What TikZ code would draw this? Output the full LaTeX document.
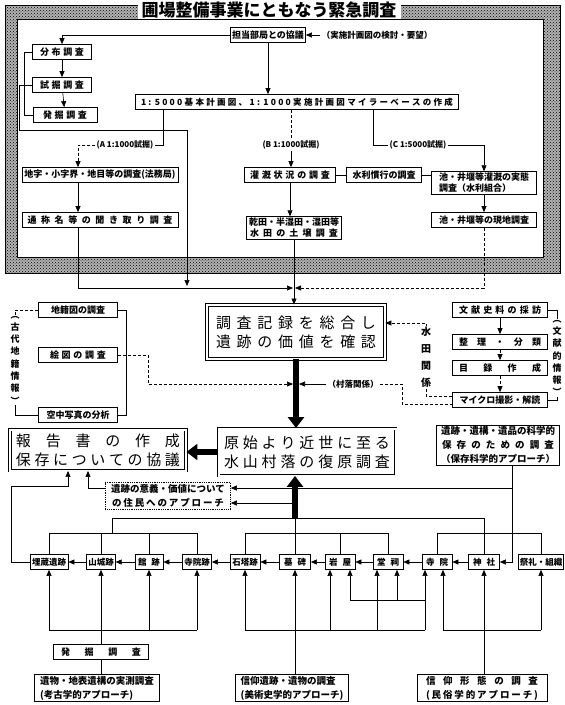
\documentclass[tikz,border=0pt]{standalone}
\usepackage{fontspec}
\setmainfont{Noto Sans CJK JP}
\usetikzlibrary{arrows.meta,patterns}
\newcommand\sprd[2]{\makebox[#1][s]{#2}}
\tikzset{bx/.style={draw,line width=0.7pt,fill=white,inner sep=1.5pt,minimum height=15pt,font=\bfseries\fontsize{9}{11}\selectfont},
dbx/.style={draw,double,double distance=2pt,line width=0.9pt,fill=white,align=center,font=\fontsize{15}{19}\selectfont},
lbl/.style={fill=white,inner sep=1pt,font=\bfseries\fontsize{8}{10}\selectfont},
vt/.style={fill=white,inner sep=0.5pt,align=center,font=\bfseries\fontsize{9}{12.3}\selectfont},
arr/.style={-{Triangle[length=6pt,width=5pt]}},
fat/.style={line width=6pt,-{Triangle[length=11pt,width=16pt]}}}

\begin{document}
\begin{tikzpicture}[x=1pt,y=-1pt,line width=0.6pt]
\useasboundingbox (0,0) rectangle (565,705);
\fill[gray!60,even odd rule] (5,5) rectangle (560,273) (17,19) rectangle (543,257);
\fill[pattern=crosshatch dots,even odd rule] (5,5) rectangle (560,273) (17,19) rectangle (543,257);
\draw (5,5) rectangle (560,273);
\draw (17,19) rectangle (543,257);
\node[fill=white,inner xsep=4pt,inner ysep=1pt,font=\bfseries\fontsize{17}{19}\selectfont] (title) at (269,10) {圃場整備事業にともなう緊急調査};

\node[bx,minimum width=75pt] (kyogi) at (268,35) {担当部局との協議};
\node[lbl,font=\bfseries\fontsize{8.5}{10}\selectfont] (yobo) at (377,35) {（実施計画図の検討・要望）};
\node[bx,minimum width=59pt] (bunpu) at (62,52) {\sprd{44pt}{分 布 調 査}};
\node[bx,minimum width=59pt] (shikutsu) at (62,85) {\sprd{44pt}{試 掘 調 査}};
\node[bx,minimum width=64pt] (hakkutsu) at (65,115) {\sprd{44pt}{発 掘 調 査}};
\node[bx,minimum width=323pt,font=\bfseries\fontsize{8.5}{10}\selectfont] (base) at (297,102) {\sprd{312pt}{1 : 5 0 0 0 基 本 計 画 図 、 1 : 1 0 0 0 実 施 計 画 図 マ イ ラ ー ベ ー ス の 作 成}};
\node[lbl] (lblA) at (125,145) {(A 1:1000試掘)};
\node[lbl] (lblB) at (291,145) {(B 1:1000試掘)};
\node[lbl] (lblC) at (418,145) {(C 1:5000試掘)};
\node[bx,minimum width=156pt] (chiaza) at (100,175) {地字・小字界・地目等の調査(法務局)};
\node[bx,minimum width=91pt] (kangai) at (290,175) {\sprd{80pt}{灌 漑 状 況 の 調 査}};
\node[bx,minimum width=75pt] (suiri) at (384,175) {水利慣行の調査};
\node[bx,minimum width=105pt,align=left] (ike1) at (484,183) {池・井堰等灌漑の実態\\調査（水利組合）};
\node[bx,minimum width=156pt] (tsusho) at (100,220) {\sprd{145pt}{通 称 名 等 の 聞 き 取 り 調 査}};
\node[bx,minimum width=95pt,align=center] (kanden) at (294,228) {乾田・半湿田・湿田等\\\sprd{88pt}{水 田 の 土 壌 調 査}};
\node[bx,minimum width=105pt] (ike2) at (484,220) {池・井堰等の現地調査};

\coordinate (x78) at (78,0);
\coordinate (kA) at (163,0);
\coordinate (kC) at (373,0);
\coordinate (c130) at (187,130);
\coordinate (c288) at (187,286);
\coordinate (bt) at (294,288);
\draw[arr] (yobo.west) -- (kyogi.east);
\draw[arr] (kyogi.west) -| (bunpu.north);
\draw[arr] (bunpu) -- (shikutsu);
\draw[arr] (shikutsu) -- (hakkutsu);
\draw (bunpu.west) -- ++(-8,0) |- (hakkutsu.west);
\draw[arr] (shikutsu.west) -- ++(-13,0) |- (c130) -- (c288);
\draw[arr] (kyogi.south) -- (kyogi.south |- base.north);
\draw (kA |- base.south) |- (lblA.east);
\draw[arr,densely dashed] (lblA.west) -| (x78 |- chiaza.north);
\draw[densely dashed] (lblB.north |- base.south) -- (lblB.north);
\draw[arr] (lblB.south) -- (lblB.south |- kangai.north);
\draw (kC |- base.south) |- (lblC.west);
\draw[arr] (lblC.east) -| (ike1.north);
\draw (kangai) -- (suiri);
\draw (suiri.east) -- (suiri.east -| ike1.west);
\draw[arr] (x78 |- chiaza.south) -- (x78 |- tsusho.north);
\draw[arr] (kangai.south) -- (kangai.south |- kanden.north);
\draw[arr] (ike1) -- (ike2);

\node[dbx,minimum width=178pt,minimum height=54pt] (sogo) at (296,332) {\sprd{160pt}{調 査 記 録 を 総 合 し}\\\sprd{160pt}{遺 跡 の 価 値 を 確 認}};
\draw[arr] (x78 |- tsusho.south) |- ([xshift=-1pt]bt);
\draw[arr,densely dashed] (ike2.south) |- ([xshift=1pt]bt);
\draw[arr] (kanden.south) -- (kanden.south |- sogo.north);

\node[bx,minimum width=79pt] (chiseki) at (78,310) {地籍図の調査};
\node[bx,minimum width=79pt] (ezu) at (78,355) {\sprd{56pt}{絵 図 の 調 査}};
\node[bx,minimum width=79pt] (kuchu) at (78,415) {空中写真の分析};
\node[vt] (leftv) at (15,360) {︵\\古\\代\\地\\籍\\情\\報\\︶};
\node[bx,minimum width=95pt] (bunken) at (500,310) {\sprd{82pt}{文 献 史 料 の 採 訪}};
\node[bx,minimum width=95pt] (seiri) at (500,342) {\sprd{82pt}{整 理 ・ 分 類}};
\node[bx,minimum width=95pt] (mokuroku) at (500,368) {\sprd{82pt}{目 録 作 成}};
\node[bx,minimum width=95pt] (micro) at (500,400) {マイクロ撮影・解読};
\node[vt] (rightv) at (557,358) {︵\\文\\献\\的\\情\\報\\︶};
\node[lbl,font=\bfseries\fontsize{8.5}{10}\selectfont] (sonraku) at (353,384) {（村落関係）};
\coordinate (v1) at (296,384);
\coordinate (sd) at (426,323);

\draw[densely dashed] (chiseki.west) -| (leftv.north);
\draw (kuchu.west) -| (leftv.south);
\draw (chiseki.east) -- ++(8,0) |- (kuchu.east);
\draw[arr,densely dashed] (ezu.east) -- ++(30,0) |- ([xshift=-3pt]v1);
\draw[arr] (bunken) -- (seiri);
\draw[arr,densely dashed] (seiri) -- (mokuroku);
\draw[arr,densely dashed] (mokuroku) -- (micro);
\draw (bunken.east) -| (rightv.north);
\draw (micro.east) -| (rightv.south);
\draw[arr,densely dashed] ([yshift=4pt]micro.west) -| (sd) -- (sd -| sogo.east);
\node[vt,font=\bfseries\fontsize{10}{17}\selectfont] (suiden) at (426,357) {水\\田\\関\\係};
\draw[densely dashed] (sonraku.east) -- ++(22,0) |- ([yshift=-4pt]micro.west);

\node[dbx,minimum width=177pt,minimum height=47pt] (genshi) at (307,452) {\sprd{166pt}{原 始 よ り 近 世 に 至 る}\\\sprd{166pt}{水 山 村 落 の 復 原 調 査}};
\node[dbx,minimum width=176pt,minimum height=41pt] (hokoku) at (98,450) {\sprd{164pt}{報 告 書 の 作 成}\\\sprd{164pt}{保 存 に つ い て の 協 議}};
\draw[fat] (sogo.south) -- (sogo.south |- genshi.north);
\draw[arr] (sonraku.west) -- ([xshift=3pt]v1);
\draw[fat] (genshi.west) -- (genshi.west -| hokoku.east);
\node[bx,minimum width=123pt,align=center,font=\bfseries\fontsize{9.5}{14}\selectfont] (hozon) at (498,445) {遺跡・遺構・遺品の科学的\\\sprd{112pt}{保 存 の た め の 調 査}\\（保存科学的アプローチ）};
\node[bx,minimum width=125pt,align=center,draw=none,font=\bfseries\fontsize{9.5}{14}\selectfont] (igi) at (168,496) {遺跡の意義・価値について\\\sprd{112pt}{の 住 民 へ の ア プ ロ ー チ}};
\draw[densely dotted,line width=0.8pt] (igi.north west) rectangle (igi.south east);

\begin{scope}[every node/.style={bx,font=\bfseries\fontsize{8.5}{10}\selectfont}]
\node[minimum width=38pt] (maizo) at (49,562) {埋蔵遺跡};
\node[minimum width=28pt] (yamashiro) at (101,562) {山城跡};
\node[minimum width=28pt] (yakata) at (149,562) {\sprd{22pt}{館 跡}};
\node[minimum width=29pt] (jiinato) at (197,562) {寺院跡};
\node[minimum width=30pt] (sekito) at (245,562) {石塔跡};
\node[minimum width=31pt] (bohi) at (295,562) {\sprd{22pt}{墓 碑}};
\node[minimum width=30pt] (iwaya) at (340,562) {\sprd{22pt}{岩 屋}};
\node[minimum width=30pt] (doshi) at (388,562) {\sprd{22pt}{堂 祠}};
\node[minimum width=30pt] (jiin) at (437,562) {\sprd{22pt}{寺 院}};
\node[minimum width=31pt] (jinja) at (484,562) {\sprd{22pt}{神 社}};
\node[minimum width=43pt] (sairei) at (541,562) {祭礼・組織};
\end{scope}
\foreach \a/\b in {yamashiro/maizo,yakata/yamashiro,jiinato/yakata,sekito/jiinato,bohi/sekito,iwaya/bohi,doshi/iwaya,jiin/doshi,jinja/jiin}
  \draw[arr] (\a) -- (\b);

\coordinate (j1) at (295,518);
\coordinate (j2) at (295,503);
\coordinate (m1) at (112,518);
\coordinate (m2) at (112,533);
\coordinate (h1) at (512,488);
\coordinate (kL) at (68,486);
\draw (m1) -| (jinja.north);
\draw (m1) -- (m2);
\draw (maizo.north) |- (jiinato.north |- m2) -- (jiinato.north);
\foreach \n in {yamashiro,yakata}
  \draw (\n.north) -- (\n.north |- m2);
\draw (sekito.north) |- (doshi.north |- m2) -- (doshi.north);
\draw (iwaya.north) -- (iwaya.north |- m2);
\draw (jiin.north) |- (sairei.north |- m2) -- (sairei.north);
\draw (bohi.north) -- (j1);
\draw[arr] (h1) -- ([yshift=8pt]igi.east);
\draw[arr] (hozon.south -| h1) |- (jinja.east);
\draw[arr] (j2) -- ([yshift=-7pt]igi.east);
\draw[fat] (j1) -- (j1 |- genshi.south);
\draw[arr] (maizo.west) -- ++(-18,0) |- (kL) -- (kL |- hokoku.south);
\draw[arr] ([yshift=8pt]igi.west) -| ([xshift=-10pt]hokoku.south);

\node[bx,minimum width=95pt] (hakkutsu2) at (101,652) {\sprd{80pt}{発 掘 調 査}};
\node[bx,minimum width=125pt,align=left,font=\bfseries\fontsize{9.5}{14}\selectfont] (koko) at (97,688) {遺物・地表遺構の実測調査\\(考古学的アプローチ)};
\node[bx,minimum width=113pt,align=left,font=\bfseries\fontsize{9.5}{14}\selectfont] (bijutsu) at (292,688) {信仰遺跡・遺物の調査\\(美術史学的アプローチ)};
\node[bx,minimum width=130pt,align=left,font=\bfseries\fontsize{9.5}{14}\selectfont] (minzoku) at (482,688) {\sprd{112pt}{信 仰 形 態 の 調 査}\\\sprd{112pt}{( 民 俗 学 的 ア プ ロ ー チ )}};

\coordinate (b1) at (0,630);
\coordinate (b2) at (0,600);
\coordinate (cIwL) at (330,0);
\coordinate (cIwR) at (350,0);
\coordinate (cDoL) at (377,0);
\coordinate (cDoR) at (397,0);
\coordinate (cJiL) at (425,0);
\coordinate (cJiR) at (443,0);
\draw[arr] (jiinato.south |- b1) -| (maizo.south);
\draw[arr] (yakata.south |- b1) -- (yakata.south);
\draw[arr] (jiinato.south |- b1) -- (jiinato.south);
\draw[arr] (hakkutsu2.north) -- (hakkutsu2.north |- yamashiro.south);
\draw (koko.north -| hakkutsu2.south) -- (hakkutsu2.south);
\draw[arr] (cJiL |- b1) -| (sekito.south);
\foreach \c in {cIwL,cDoL,cJiL}
  \draw[arr] (\c |- b1) -- (\c |- iwaya.south);
\draw[arr] (cJiL |- b2) -| (cIwR |- iwaya.south);
\draw[arr] (cDoR |- b2) -- (cDoR |- doshi.south);
\draw[arr] (bohi.south |- bijutsu.north) -- (bohi.south);
\draw[arr] (sairei.south |- b1) -| (cJiR |- jiin.south);
\draw[arr] (sairei.south |- b1) -- (sairei.south);
\draw[arr] (jinja.south |- minzoku.north) -- (jinja.south);
\end{tikzpicture}
\end{document}
